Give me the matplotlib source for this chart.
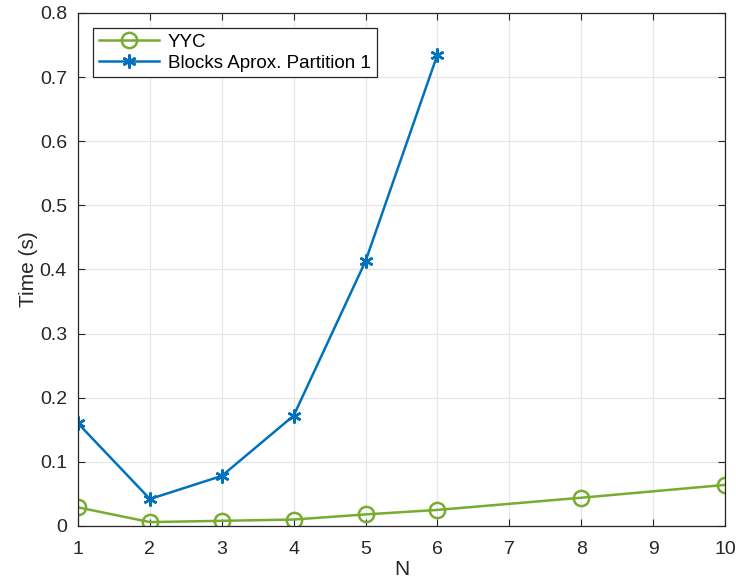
import matplotlib.pyplot as plt

plt.rcParams['font.family'] = ['Liberation Sans', 'DejaVu Sans']

# Datos
n_yyc = [1, 2, 3, 4, 5, 6, 8, 10]
t_yyc = [0.029, 0.006, 0.008, 0.010, 0.018, 0.025, 0.044, 0.064]

n_blocks = [1, 2, 3, 4, 5, 6]
t_blocks = [0.160, 0.042, 0.078, 0.172, 0.413, 0.735]

verde = '#77AC30'
azul = '#0072BD'

fig = plt.figure(figsize=(7.36, 5.87), dpi=100)
ax = fig.add_axes([0.106, 0.104, 0.879, 0.874])

ax.plot(n_yyc, t_yyc, color=verde, marker='o', markersize=11, markerfacecolor='none',
        markeredgewidth=1.8, linewidth=1.8, label='YYC')
ax.plot(n_blocks, t_blocks, color=azul, marker=(6, 2, 0), markersize=10, markeredgewidth=1.8,
        linewidth=1.8, label='Blocks Aprox. Partition 1')

ax.set_xlim(1, 10)
ax.set_ylim(0, 0.8)
ax.set_xticks(range(1, 11))
ax.set_yticks([0, 0.1, 0.2, 0.3, 0.4, 0.5, 0.6, 0.7, 0.8])
ax.set_yticklabels(['0', '0.1', '0.2', '0.3', '0.4', '0.5', '0.6', '0.7', '0.8'])

ax.grid(True, color='#e6e6e6', linewidth=0.9)
ax.set_axisbelow(True)
ax.tick_params(direction='in', top=True, right=True, labelsize=14, colors='#262626',
               length=5, pad=8)
ax.tick_params(axis='x', pad=11)
for s in ax.spines.values():
    s.set_color('#262626')
    s.set_linewidth(0.9)

ax.set_xlabel('N', fontsize=15, color='#262626', labelpad=1)
ax.set_ylabel('Time (s)', fontsize=15, color='#262626', labelpad=1)

leg = ax.legend(loc='upper left', fontsize=13.5, fancybox=False, framealpha=1,
                edgecolor='#262626', borderaxespad=0.8, handlelength=3.2,
                borderpad=0.3, labelspacing=0.2, handletextpad=0.5, numpoints=1)
leg.get_frame().set_linewidth(0.9)

fig.savefig('out.png', dpi=100)
